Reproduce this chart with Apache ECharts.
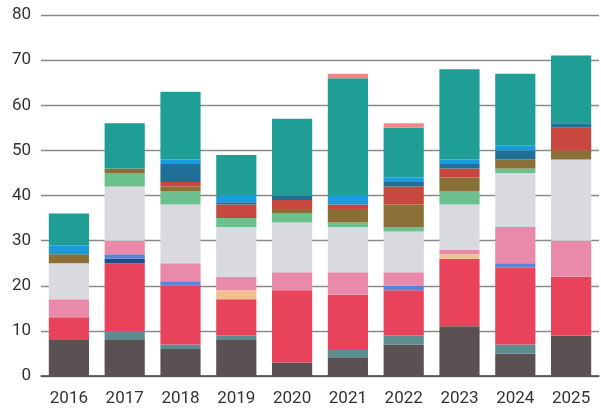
<!DOCTYPE html>
<html>
<head>
<meta charset="utf-8">
<script src="https://cdn.jsdelivr.net/npm/echarts@6/dist/echarts.min.js"></script>
<style>html,body{margin:0;padding:0;background:#fff;}#c{width:601px;height:414px;}</style>
</head>
<body>
<div id="c"></div>
<script>
const years = ['2016','2017','2018','2019','2020','2021','2022','2023','2024','2025'];
const darkgray = [8,8,6,8,3,4,7,11,5,9];
const slate    = [0,2,1,1,0,2,2,0,2,0];
const red      = [5,15,13,8,16,12,10,15,17,13];
const navy     = [0,1,0,0,0,0,0,0,0,0];
const blue     = [0,1,1,0,0,0,1,0,1,0];
const peach    = [0,0,0,2,0,0,0,1,0,0];
const pink     = [4,3,4,3,4,5,3,1,8,8];
const lgray    = [8,12,13,11,11,10,9,10,12,18];
const green    = [0,3,3,2,2,1,1,3,1,0];
const brown    = [2,1,1,0,1,3,5,3,2,2];
const redbrown = [0,0,1,3,2,1,4,2,0,5];
const darkteal = [0,0,4,0.5,1,0,1,1,2,1];
const bblue    = [2,0,1,1.5,0,2,1,1,1,0];
const teal     = [7,10,15,9,17,26,11,20,16,15];
const salmon   = [0,0,0,0,0,1,1,0,0,0];
const yTicks = [0,10,20,30,40,50,60,70,80];

const layers = [
  [darkgray,'#5b5052'],[slate,'#5e8c8f'],[red,'#e8435b'],[navy,'#1e4f86'],
  [blue,'#5a84d6'],[peach,'#f2c08f'],[pink,'#e98aaa'],[lgray,'#d8dadf'],
  [green,'#6cc08d'],[brown,'#8a7036'],[redbrown,'#c8473e'],[darkteal,'#1f6f96'],
  [bblue,'#1a9be0'],[teal,'#1e9e94'],[salmon,'#f0888a']
];
const font = "'Liberation Sans Narrow','Roboto',sans-serif";
const chart = echarts.init(document.getElementById('c'), null, {renderer:'canvas'});
chart.setOption({
  animation:false,
  grid:{left:41,right:2,top:15,bottom:38},
  xAxis:{type:'category',data:years,
    axisLine:{lineStyle:{color:'#444',width:1.5}},axisTick:{show:false},
    axisLabel:{color:'#333',fontSize:17,margin:14,fontFamily:font}},
  yAxis:{type:'value',min:0,max:80,interval:10,
    axisLine:{show:false},axisTick:{show:false},
    axisLabel:{color:'#333',fontSize:17,margin:10,fontFamily:font,
      formatter:v=>yTicks.includes(v)?String(v):''},
    splitLine:{lineStyle:{color:'#8a8a8a',width:1.3}}},
  series:layers.map(([d,c],i)=>({type:'bar',stack:'s',data:d,barCategoryGap:'28%',
    itemStyle:{color:c},emphasis:{disabled:true}}))
});
</script>
</body>
</html>
